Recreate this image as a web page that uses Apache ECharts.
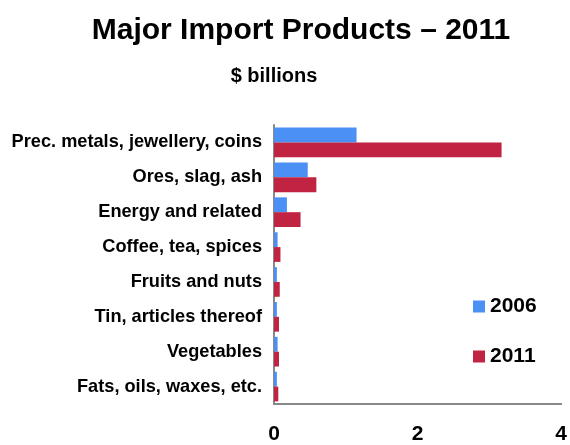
<!DOCTYPE html>
<html><head><meta charset="utf-8">
<script src="https://cdn.jsdelivr.net/npm/echarts@6/dist/echarts.min.js"></script>
<style>html,body{margin:0;padding:0;background:#fff}#c{width:570px;height:445px}</style>
</head><body><div id="c"></div>
<script>
var categories = ["Prec. metals, jewellery, coins","Ores, slag, ash","Energy and related","Coffee, tea, spices","Fruits and nuts","Tin, articles thereof","Vegetables","Fats, oils, waxes, etc."];
var values2006 = [1.15, 0.47, 0.18, 0.05, 0.04, 0.04, 0.05, 0.04];
var values2011 = [3.17, 0.59, 0.37, 0.09, 0.08, 0.07, 0.07, 0.06];
var xTicks = [0, 2, 4];
var ff = '"Liberation Sans", Arial, sans-serif';
var chart = echarts.init(document.getElementById('c'));
chart.setOption({
  animation: false,
  title: [
    {text: 'Major Import Products \u2013 2011', left: 296, textAlign: 'center', top: 11,
     textStyle: {fontFamily: ff, fontSize: 30, fontWeight: 'bold', color: '#000'}},
    {text: '$ billions', left: 269, textAlign: 'center', top: 61,
     textStyle: {fontFamily: ff, fontSize: 20, fontWeight: 'bold', color: '#000'}}
  ],
  legend: {
    orient: 'vertical', left: 473, top: 296, itemWidth: 12, itemHeight: 12, itemGap: 29,
    icon: 'rect', padding: 0,
    textStyle: {fontFamily: ff, fontSize: 21, fontWeight: 'bold', color: '#000'},
    data: ['2006', '2011']
  },
  grid: {left: 274, right: 5, top: 125, bottom: 37, containLabel: false},
  xAxis: {
    type: 'value', min: 0, max: 4, interval: 2,
    axisLine: {show: true, lineStyle: {color: '#888', width: 2}},
    axisTick: {show: false}, splitLine: {show: false},
    axisLabel: {fontFamily: ff, fontSize: 21, fontWeight: 'bold', color: '#000', margin: 20,
      formatter: function(v){ return xTicks.indexOf(v) >= 0 ? String(v) : ''; }}
  },
  yAxis: {
    type: 'category', data: categories, inverse: true,
    axisLine: {show: true, lineStyle: {color: '#888', width: 2}},
    axisTick: {show: false},
    axisLabel: {fontFamily: ff, fontSize: 18.2, fontWeight: 'bold', color: '#000', margin: 12}
  },
  series: [
    {name: '2006', type: 'bar', data: values2006, barGap: '0%', barCategoryGap: '15%',
     itemStyle: {color: '#4a90f5'}},
    {name: '2011', type: 'bar', data: values2011, barGap: '0%', barCategoryGap: '15%',
     itemStyle: {color: '#c02442'}}
  ]
});
</script></body></html>
